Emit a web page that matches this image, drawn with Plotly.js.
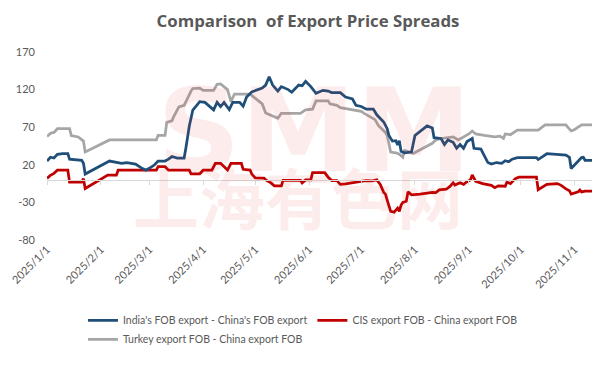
<!DOCTYPE html>
<html>
<head>
<meta charset="utf-8">
<script src="https://cdn.plot.ly/plotly-3.0.1.min.js"></script>
<style>html,body{margin:0;padding:0;background:#fff;}#chart{width:616px;height:366px;}</style>
</head>
<body>
<div id="chart"></div>
<script>
// ---- data ----
const seriesNames = [
  "India's FOB export - China's FOB export",
  "CIS export FOB - China export FOB",
  "Turkey export FOB - China export FOB"
];

const indiaDates = ["2025-01-01","2025-01-03","2025-01-05","2025-01-07","2025-01-10","2025-01-13","2025-01-14","2025-01-21","2025-01-22","2025-01-23",
"2025-02-06","2025-02-09","2025-02-13","2025-02-16","2025-02-21","2025-02-25","2025-02-27","2025-03-02","2025-03-04","2025-03-06",
"2025-03-10","2025-03-12","2025-03-14","2025-03-17","2025-03-21","2025-03-22","2025-03-24","2025-03-26","2025-03-30","2025-04-02",
"2025-04-04","2025-04-07","2025-04-09","2025-04-11","2025-04-13","2025-04-15","2025-04-16","2025-04-18","2025-04-22","2025-04-24",
"2025-04-26","2025-04-29","2025-05-03","2025-05-05","2025-05-07","2025-05-09","2025-05-11","2025-05-13","2025-05-14","2025-05-16",
"2025-05-20","2025-05-22","2025-05-26","2025-05-28","2025-05-30","2025-06-02","2025-06-05","2025-06-09","2025-06-12","2025-06-14",
"2025-06-19","2025-06-22","2025-06-26","2025-06-28","2025-07-01","2025-07-04","2025-07-08","2025-07-10","2025-07-12","2025-07-14",
"2025-07-16","2025-07-17","2025-07-19","2025-07-21","2025-07-22","2025-07-23","2025-07-24","2025-07-26","2025-07-30","2025-08-01",
"2025-08-08","2025-08-11","2025-08-12","2025-08-15","2025-08-16","2025-08-18","2025-08-20","2025-08-23","2025-08-25","2025-08-27",
"2025-08-29","2025-08-31","2025-09-03","2025-09-04","2025-09-08","2025-09-10","2025-09-12","2025-09-14","2025-09-17","2025-09-20",
"2025-09-22","2025-09-24","2025-09-26","2025-09-29","2025-10-10","2025-10-11","2025-10-16","2025-10-27","2025-10-29","2025-10-30",
"2025-11-01","2025-11-05","2025-11-06","2025-11-07","2025-11-11"];
const indiaVals = [25,30,29,34,35,35,27.5,26,22,7.7,
25,23.6,22,23,21,15,12.8,17,20,25,
25,27.5,31,29,29,42,71.7,92.8,104,103,
99,93,103,97.5,103,97,93.5,103,103,98,
110,117,120,122,126,137,126,120,118,124,
120,116.5,126,125,131,124,115,119,118,116,
116,110,107.5,99,97.5,94,94,86.5,82,77,
68,59,51.5,52,46.5,52,38,36,37,59,
71.7,69,56,55,55,47,53,50,42,47,
42,51,55,42,41,32,23,21,23,22,
25.5,24,27.5,29.6,29.6,27,34.7,33,30,15,
19.6,29.6,30,26,26];

const cisDates = ["2025-01-01","2025-01-03","2025-01-05","2025-01-07","2025-01-13","2025-01-14","2025-01-21","2025-01-22","2025-01-23","2025-02-05",
"2025-02-10","2025-02-11","2025-03-05","2025-03-06","2025-03-10","2025-03-12","2025-03-24","2025-03-25","2025-03-30","2025-04-01",
"2025-04-06","2025-04-08","2025-04-11","2025-04-13","2025-04-15","2025-04-17","2025-04-23","2025-04-24","2025-04-28","2025-04-29",
"2025-05-01","2025-05-06","2025-05-07","2025-05-10","2025-05-12","2025-05-16","2025-05-17","2025-05-27","2025-05-28","2025-05-30",
"2025-06-02","2025-06-03","2025-06-10","2025-06-12","2025-06-14","2025-06-17","2025-06-19","2025-06-22","2025-06-28","2025-07-01",
"2025-07-04","2025-07-07","2025-07-10","2025-07-12","2025-07-14","2025-07-15","2025-07-16","2025-07-18","2025-07-20","2025-07-22",
"2025-07-23","2025-07-24","2025-07-25","2025-07-27","2025-07-28","2025-07-30","2025-08-04","2025-08-08","2025-08-11","2025-08-13",
"2025-08-15","2025-08-19","2025-08-21","2025-08-23","2025-08-24","2025-08-27","2025-08-29","2025-08-31","2025-09-02","2025-09-03",
"2025-09-05","2025-09-09","2025-09-14","2025-09-16","2025-09-18","2025-09-22","2025-09-23","2025-09-25","2025-09-28","2025-09-30",
"2025-10-10","2025-10-11","2025-10-16","2025-10-22","2025-10-24","2025-10-27","2025-10-29","2025-10-30","2025-11-01","2025-11-03",
"2025-11-04","2025-11-05","2025-11-07","2025-11-11"];
const cisVals = [2,6,8.6,12.8,12.8,-3,-3,1.5,-11.5,6.4,
6.4,12.8,12.8,17.5,17.5,12.8,12.8,8,8,12.8,
12.8,22,22,17,13,22,22,14,13,7.7,
2.5,2.3,0,-4,-8,-8,-0.6,-0.6,-4,0,
0,9.5,9.5,3.5,-1,-1,-6,-5.5,-2.5,-2,
-1,-1.5,0,-6,-16.7,-19,-27,-42,-43,-37.7,
-42,-33.5,-30,-28.5,-15.8,-20,-19,-17.6,-16.7,-17,
-13.3,-12.5,-9,-4,-7,-4,-6,-2.5,0,6.4,
-2,-5,-7.4,-10.4,-8,-8.5,-3,-5,2,3.5,
3.5,-13,-6,-5,-7,-12,-14.5,-19,-17.6,-16,
-13.5,-16,-15,-15];

const turkeyDates = ["2025-01-01","2025-01-03","2025-01-05","2025-01-07","2025-01-14","2025-01-15","2025-01-19","2025-01-21","2025-01-22","2025-01-23",
"2025-02-06","2025-03-05","2025-03-06","2025-03-10","2025-03-11","2025-03-14","2025-03-15","2025-03-18","2025-03-21","2025-03-25",
"2025-03-26","2025-03-30","2025-04-01","2025-04-07","2025-04-09","2025-04-11","2025-04-13","2025-04-15","2025-04-17","2025-04-19",
"2025-04-28","2025-04-30","2025-05-03","2025-05-05","2025-05-07","2025-05-11","2025-05-14","2025-05-16","2025-05-27","2025-05-30",
"2025-06-03","2025-06-05","2025-06-12","2025-06-13","2025-06-17","2025-06-19","2025-07-01","2025-07-03","2025-07-09","2025-07-11",
"2025-07-15","2025-07-16","2025-07-18","2025-07-21","2025-07-23","2025-07-25","2025-07-26","2025-07-29","2025-07-31","2025-08-11",
"2025-08-13","2025-08-16","2025-08-23","2025-08-26","2025-08-29","2025-09-01","2025-09-03","2025-09-05","2025-09-10","2025-09-16",
"2025-09-19","2025-09-21","2025-09-22","2025-09-25","2025-09-29","2025-10-11","2025-10-15","2025-10-27","2025-10-28","2025-10-30",
"2025-11-01","2025-11-05","2025-11-11"];
const turkeyVals = [57.5,62,63,68,68,59,57,53,51.5,37,
53,53,59,59,76.5,78.5,84,97,99,118,
121.5,122,119,119,127,127.5,124,120,104,114,
114,110,105,101,89,85,82,88.5,88.5,93,
94,105,105,101,99,96,91,88,80,72,
63,59,37,36,34,30,39,37,35,48.6,
53,55,57,53,57,61,65,61,59,57,
58,55,61,60,66,66,73,73,70,65,
67,73,73];

const yTicks = [-80,-30,20,70,120,170];
const seriesColors = ["#1F4E79","#C00000","#A6A6A6"];
const titleText = "Comparison\u00a0 of Export Price Spreads";
const watermarkLatin = "SMM";
const watermarkCJK = "上海有色网";

// ---- chart ----
const FONT = "Lato, 'Open Sans', sans-serif";
const TITLE_FONT = "'Open Sans', Lato, sans-serif";
const GREY = "#595959";
const WM = 'rgba(235,40,40,0.085)';

const traces = [
  {x: indiaDates, y: indiaVals, name: seriesNames[0]},
  {x: cisDates, y: cisVals, name: seriesNames[1]},
  {x: turkeyDates, y: turkeyVals, name: seriesNames[2]}
].map((t, i) => Object.assign(t, {
  type: 'scatter', mode: 'lines',
  line: {color: seriesColors[i], width: 2.75},
  hoverinfo: 'skip', legendrank: i + 1
}));
const ordered = [traces[2], traces[1], traces[0]];
ordered.push({type:'scatter', x: [], y: [], xaxis: 'x2', yaxis: 'y', showlegend: false, hoverinfo: 'skip'});

const annotations = [
  {text: watermarkLatin, xref: 'paper', yref: 'paper', x: 0.49, y: 0.585, xanchor: 'center', yanchor: 'middle',
   showarrow: false, font: {family: "'DejaVu Sans', sans-serif", size: 116, color: WM, weight: 'bold'}},
  {text: watermarkCJK, xref: 'paper', yref: 'paper', x: 0.46, y: 0.24, xanchor: 'center', yanchor: 'middle',
   showarrow: false, font: {family: "'Noto Sans CJK SC', sans-serif", size: 66, color: WM, weight: 'bold'}}
];

const layout = {
  width: 616, height: 366,
  paper_bgcolor: '#ffffff', plot_bgcolor: '#ffffff',
  margin: {l: 47, r: 24, t: 52, b: 116},
  font: {family: FONT, color: GREY, size: 11},
  title: {text: titleText, font: {family: TITLE_FONT, size: 16.8, color: GREY, weight: 'bold'},
          x: 0.5, xanchor: 'center', y: 0.943, yanchor: 'middle'},
  showlegend: true,
  legend: {orientation: 'h', x: 0.066, xanchor: 'left', y: -0.35, yanchor: 'top',
           font: {family: FONT, size: 10.5, color: GREY}, traceorder: 'normal',
           bgcolor: 'rgba(0,0,0,0)'},
  xaxis: {type: 'date', range: ['2025-01-01', '2025-11-11'],
          tick0: '2025-01-01', dtick: 'M1', tickformat: '%Y/%-m/%-d', tickangle: -45,
          showgrid: false, zeroline: false, showline: false, ticks: '',
          tickfont: {family: FONT, size: 11, color: GREY}},
  xaxis2: {type: 'date', overlaying: 'x', matches: 'x', anchor: 'free', position: 0.32,
           tick0: '2025-01-01', dtick: 'M1', showticklabels: false,
           showline: true, linecolor: '#d9d9d9', linewidth: 1,
           ticks: 'outside', ticklen: 4, tickcolor: '#d9d9d9', tickwidth: 1,
           showgrid: false, zeroline: false},
  yaxis: {range: [-80, 170], tickvals: yTicks, ticktext: yTicks.map(String),
          showgrid: false, zeroline: false, showline: false, ticks: '',
          ticklabelstandoff: 11,
          tickfont: {family: FONT, size: 11, color: GREY}},
  annotations: annotations
};

Plotly.newPlot('chart', ordered, layout, {staticPlot: true, displayModeBar: false});
</script>
</body>
</html>
